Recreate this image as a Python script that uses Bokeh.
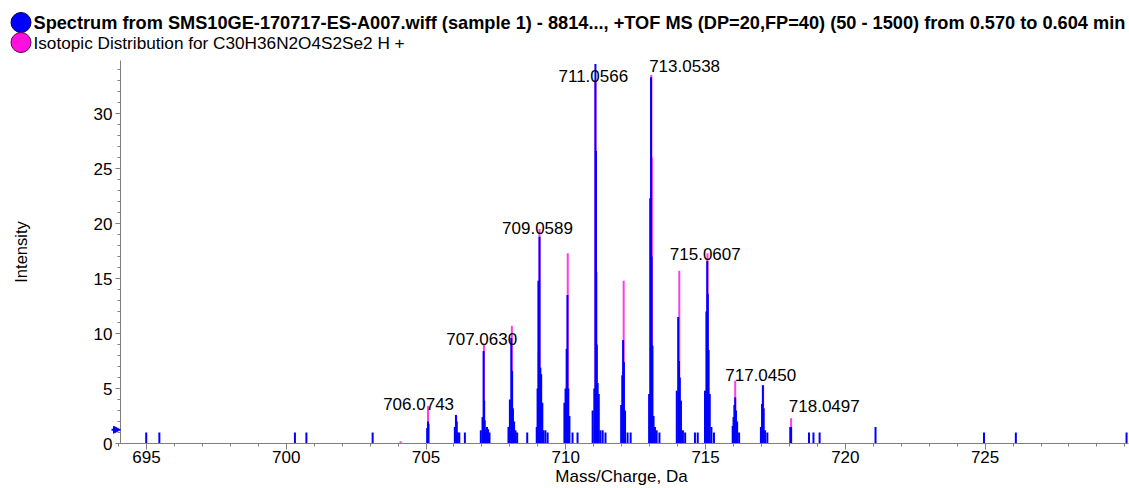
import numpy as np
from bokeh.plotting import figure
from bokeh.models import Range1d, FixedTicker, ColumnDataSource, Arrow, NormalHead
from bokeh.core.properties import value
from bokeh.embed import file_html
from bokeh.resources import INLINE

# ---------------- data ----------------
series_names = [
    "Spectrum from SMS10GE-170717-ES-A007.wiff (sample 1) - 8814..., +TOF MS (DP=20,FP=40) (50 - 1500) from 0.570 to 0.604 min",
    "Isotopic Distribution for C30H36N2O4S2Se2 H +",
]
x_title = "Mass/Charge, Da"
y_title = "Intensity"

spectrum_mz = [
    694.99, 695.46, 700.31, 700.72, 703.09,
    705.04, 705.07, 705.09,
    706.03, 706.07, 706.10, 706.14, 706.19, 706.39,
    706.96, 707.02, 707.06, 707.08, 707.10, 707.14, 707.18, 707.22, 707.27,
    707.95, 708.00, 708.05, 708.08, 708.11, 708.15, 708.20, 708.26, 708.62,
    708.96, 708.99, 709.02, 709.06, 709.09, 709.12, 709.16, 709.20, 709.27, 709.35,
    709.95, 709.99, 710.03, 710.06, 710.09, 710.13, 710.24, 710.42,
    710.96, 711.02, 711.06, 711.08, 711.11, 711.14, 711.18, 711.24, 711.32, 711.42,
    711.98, 712.02, 712.05, 712.08, 712.12, 712.21, 712.32,
    712.98, 713.02, 713.05, 713.07, 713.10, 713.14, 713.19, 713.25, 713.35,
    713.97, 714.02, 714.05, 714.08, 714.12, 714.19, 714.27, 714.62, 714.72,
    714.98, 715.03, 715.06, 715.08, 715.11, 715.15, 715.21, 715.30,
    715.97, 716.00, 716.03, 716.06, 716.09, 716.13, 716.20,
    716.98, 717.02, 717.05, 717.08, 717.13, 717.21,
    718.03, 718.06, 718.70, 718.86, 719.08,
    721.08, 724.96, 726.10, 730.06,
]
spectrum_int = [
    1.0, 1.0, 1.0, 1.0, 1.0,
    1.4, 2.0, 1.8,
    1.5, 2.6, 2.0, 1.0, 1.0, 1.0,
    1.2, 2.4, 8.4, 3.9, 2.1, 1.3, 1.5, 1.3, 1.0,
    1.5, 4.0, 9.6, 6.6, 3.2, 2.0, 1.2, 1.0, 1.0,
    1.5, 5.0, 14.8, 18.8, 6.9, 6.3, 3.7, 1.2, 1.2, 1.0,
    3.7, 5.0, 8.6, 13.5, 5.0, 2.5, 1.0, 1.0,
    3.0, 5.0, 34.5, 26.6, 9.0, 5.5, 4.5, 1.2, 1.2, 1.0,
    3.5, 6.2, 9.4, 7.4, 3.0, 1.0, 1.0,
    4.5, 22.3, 33.3, 17.0, 8.9, 2.5, 1.5, 1.2, 1.0,
    4.8, 11.5, 7.5, 6.0, 3.9, 1.2, 1.0, 1.0, 1.0,
    4.8, 12.0, 16.6, 13.6, 8.5, 4.5, 1.5, 1.0,
    1.6, 2.4, 3.5, 4.2, 3.0, 2.0, 1.0,
    1.5, 3.6, 5.3, 3.2, 1.2, 1.0,
    1.5, 1.5, 1.0, 1.0, 1.0,
    1.5, 1.0, 1.0, 1.0,
]

isotope_mz = [704.09, 705.07, 706.08, 707.07, 708.07, 709.03, 709.06, 710.07,
              711.06, 711.10, 712.07, 713.06, 713.08, 714.06, 715.07, 716.06,
              717.06, 718.06]
isotope_int = [0.2, 3.4, 2.5, 9.0, 10.7, 8.3, 19.5, 17.3,
               33.0, 15.6, 14.8, 33.5, 26.0, 15.7, 17.3, 5.7,
               5.3, 2.3]

label_mz = [706.0743, 707.0630, 709.0589, 711.0566, 713.0538, 715.0607, 717.0450, 718.0497]
label_int = [2.8, 8.7, 18.8, 32.6, 33.5, 16.4, 5.4, 2.6]
label_text = ["706.0743", "707.0630", "709.0589", "711.0566", "713.0538", "715.0607", "717.0450", "718.0497"]

x_ticks = [695, 700, 705, 710, 715, 720, 725]
y_ticks = [0, 5, 10, 15, 20, 25, 30]
threshold = 1.25

# ---------------- style / geometry ----------------
BLUE = "#0000FF"
MAGENTA = "#FF3CE6"
AXIS_GREY = "#808080"
FONT = "Liberation Sans"
label_align = ["right", "center", "center", "center", "left", "center", "center", "left"]
W, H = 1129, 488
# plotted area (axes box) in canvas pixels
AX_L, AX_R, AX_T, AX_B = 120, 1128, 60, 443
X_MIN, X_MAX = 694.07, 730.13
Y_MAX = 34.82
PPX = (AX_R - AX_L) / (X_MAX - X_MIN)   # pixels per Da
PPY = (AX_B - AX_T) / Y_MAX             # pixels per intensity unit


def px_x(px):
    return X_MIN + (px - AX_L) / PPX


def px_y(py):
    return (AX_B - py) / PPY


# the frame covers the whole canvas; axes are pinned at the plot-area edges
p = figure(width=W, height=H,
           x_range=Range1d(px_x(0), px_x(W)), y_range=Range1d(px_y(H), px_y(0)),
           output_backend="svg", toolbar_location=None,
           min_border_left=0, min_border_right=0, min_border_top=0, min_border_bottom=0,
           outline_line_color=None)
p.grid.visible = False

# legend
legend_rows = [22, 42]
legend_colors = [BLUE, "#FF10DC"]
legend_edges = ["#000060", "#600050"]
legend_styles = ["bold", "normal"]
legend_sizes = ["18.2px", "17.2px"]
p.scatter(x=[px_x(20.5)] * 2, y=[px_y(r) for r in legend_rows], size=20, marker="circle",
          fill_color=legend_colors, line_color=legend_edges, line_width=1)
for i in range(2):
    p.text(x=[px_x(33)], y=[px_y(legend_rows[i])], text=[series_names[i]],
           text_font=value(FONT), text_font_size=legend_sizes[i],
           text_font_style=legend_styles[i], text_baseline="middle", text_color="#000000")

# x-axis title
p.text(x=[px_x(621)], y=[px_y(476)], text=[x_title], text_font=value(FONT),
       text_font_size="17px", text_align="center", text_baseline="middle", text_color="#000000")

# sticks
iso_src = ColumnDataSource(dict(x=isotope_mz, y=isotope_int, z=[0] * len(isotope_mz)))
spec_src = ColumnDataSource(dict(x=spectrum_mz, y=spectrum_int, z=[0] * len(spectrum_mz)))
p.segment(x0="x", y0="z", x1="x", y1="y", source=iso_src, line_color=MAGENTA, line_width=2)
p.segment(x0="x", y0="z", x1="x", y1="y", source=spec_src, line_color=BLUE, line_width=2)

# peak labels
lab_src = ColumnDataSource(dict(x=label_mz, y=label_int, t=label_text, a=label_align))
p.text(x="x", y="y", text="t", source=lab_src, text_align="a", text_baseline="alphabetic",
       x_offset=-2, y_offset=-9, text_font=value(FONT), text_font_size="17px",
       text_color="#000000")

# threshold arrow on the intensity axis
p.add_layout(Arrow(x_start=px_x(111), x_end=px_x(120), y_start=threshold, y_end=threshold,
                   line_color=BLUE, line_width=2,
                   end=NormalHead(size=7, fill_color=BLUE, line_color=BLUE)))

# axes
minor_x = list(range(694, 731))
minor_y = list(range(0, 35))
p.xaxis.ticker = FixedTicker(ticks=x_ticks, minor_ticks=minor_x)
p.yaxis.ticker = FixedTicker(ticks=y_ticks, minor_ticks=minor_y)
p.xaxis.fixed_location = 0
p.yaxis.fixed_location = X_MIN
p.xaxis.bounds = (X_MIN, X_MAX)
p.yaxis.bounds = (0, Y_MAX)

for ax in (p.xaxis[0], p.yaxis[0]):
    ax.axis_line_color = AXIS_GREY
    ax.major_tick_line_color = AXIS_GREY
    ax.minor_tick_line_color = AXIS_GREY
    ax.major_tick_in = 0
    ax.minor_tick_in = 0
    ax.minor_tick_out = 3
    ax.major_label_text_font = FONT
    ax.major_label_text_font_size = "17px"
    ax.major_label_text_color = "#000000"
    ax.axis_label_text_font = FONT
    ax.axis_label_text_font_style = "normal"
    ax.axis_label_text_color = "#000000"

p.xaxis.major_tick_out = 6
p.xaxis.major_label_standoff = 1

p.yaxis.major_tick_out = 5
p.yaxis.major_label_standoff = 3
p.yaxis.axis_label = y_title
p.yaxis.axis_label_text_font_size = "16.5px"
p.yaxis.axis_label_standoff = 61

open("out.html", "w").write(file_html(p, INLINE))
